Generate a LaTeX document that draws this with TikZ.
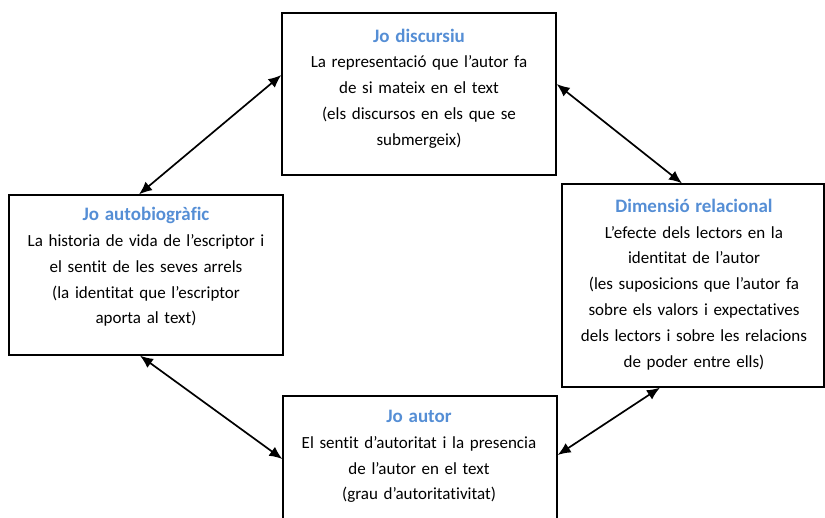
\documentclass[tikz,border=0pt]{standalone}
\usepackage{fontspec}
\setmainfont{Carlito}[Ligatures=NoCommon]
\usetikzlibrary{arrows.meta}
\definecolor{titleblue}{HTML}{558ED5}

\begin{document}
\begin{tikzpicture}[x=1pt,y=-1pt]
		\tikzset{box/.style = {shape=rectangle,draw,line width=1.3pt,inner sep=0pt}}
		\tikzset{boxtext/.style = {align=center,text width=265pt,
			font=\fontsize{17}{25.8}\selectfont}}
		\tikzset{edge/.style = {{Latex[length=13pt,width=11pt]}-{Latex[length=13pt,width=11pt]},line width=1.7pt}}
		\newcommand{\boxtitle}[1]{{\fontsize{19}{25.8}\selectfont\color{titleblue}\bfseries #1}}
		\useasboundingbox (0,0) rectangle (825,517);
		% boxes
		\node[box,minimum width=274pt,minimum height=162pt] (disc) at (419,94) {};
		\node[box,minimum width=274pt,minimum height=160pt] (autobio) at (146,275) {};
		\node[box,minimum width=262pt,minimum height=203pt] (rel) at (693,285.5) {};
		\node[box,minimum width=274pt,minimum height=126pt] (autor) at (420,459) {};
		
		% texts
		\node[boxtext] (discT) at (419,88.5) {\boxtitle{Jo discursiu}\\
			La representació que l’autor fa\\ de si mateix en el text\\
			(els discursos en els que se\\ submergeix)};
		\node[boxtext] (autobioT) at (146,267) {\boxtitle{Jo autobiogràfic}\\
			La historia de vida de l’escriptor i\\ el sentit de les seves arrels\\
			(la identitat que l’escriptor\\ aporta al text)};
		\node[boxtext] (relT) at (694,284.5) {\boxtitle{Dimensió relacional}\\
			L’efecte dels lectors en la\\ identitat de l’autor\\
			(les suposicions que l’autor fa\\ sobre els valors i expectatives\\
			dels lectors i sobre les relacions\\ de poder entre ells)};
		\node[boxtext] (autorT) at (419,456.5) {\boxtitle{Jo autor}\\
			El sentit d’autoritat i la presencia\\ de l’autor en el text\\
			(grau d’autoritativitat)};
		
		% arrows
		\draw[edge] ([yshift=19pt]disc.west) to ([xshift=-7pt]autobio.north);
		\draw[edge] ([yshift=10pt]disc.east) to ([xshift=-11pt]rel.north);
		\draw[edge] ([xshift=-6pt]autobio.south) to (autor.west);
		\draw[edge] ([yshift=4pt]autor.east) to ([xshift=-33pt]rel.south);
\end{tikzpicture}
\end{document}
